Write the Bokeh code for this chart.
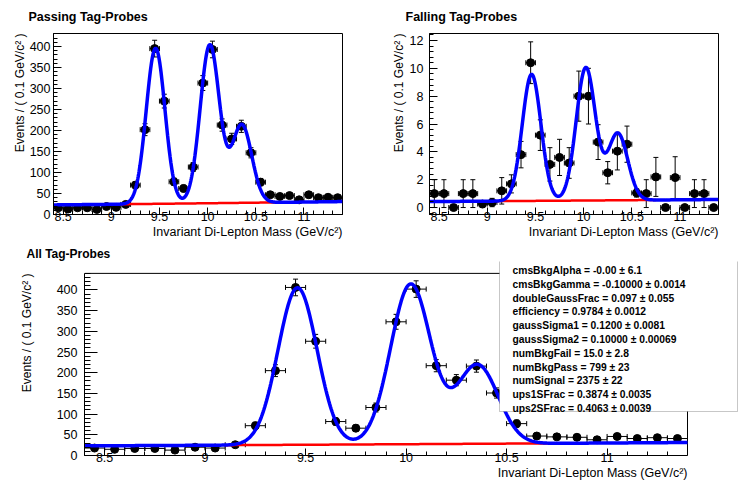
import numpy as np
from bokeh.plotting import figure
from bokeh.layouts import column, row
from bokeh.models import FixedTicker, NumeralTickFormatter, Label, BoxAnnotation, Range1d, Title
from bokeh.embed import file_html
from bokeh.resources import INLINE

# ---------------- data ----------------
mass_bins = [8.45, 8.55, 8.65, 8.75, 8.85, 8.95, 9.05, 9.15, 9.25, 9.35,
             9.45, 9.55, 9.65, 9.75, 9.85, 9.95, 10.05, 10.15, 10.25, 10.35,
             10.45, 10.55, 10.65, 10.75, 10.85, 10.95, 11.05, 11.15, 11.25, 11.35]
bin_half_width = 0.05

pass_counts = [16, 13, 16, 16, 12, 19, 17, 24, 70, 202,
               395, 270, 78, 62, 113, 313, 393, 213, 180, 210,
               147, 77, 47, 43, 45, 35, 47, 40, 41, 40]
pass_errors = [4.0, 3.6, 4.0, 4.0, 3.5, 4.4, 4.1, 4.9, 8.4, 14.2,
               19.9, 16.4, 8.8, 7.9, 10.6, 17.7, 19.8, 14.6, 13.4, 14.5,
               12.1, 8.8, 6.9, 6.6, 6.7, 5.9, 6.9, 6.3, 6.4, 6.3]

fail_counts = [1, 1, 0, 1, 1, 0.25, 0.36, 1.2, 1.7, 3.8,
               10.4, 5.2, 3.1, 3.6, 3.2, 8.0, 8.0, 4.7, 2.5, 4.05,
               4.55, 1.05, 1.0, 2.2, 0, 2.15, 0, 1, 1, 0]
fail_errors = [1.0, 1.0, 0.0, 1.0, 1.0, 0.25, 0.3, 0.95, 0.65, 0.95,
               1.5, 1.1, 1.2, 1.3, 1.1, 1.8, 2.0, 1.25, 0.8, 1.35,
               1.3, 0.3, 1.0, 1.4, 0.0, 1.5, 0.0, 1.0, 1.0, 0.0]

all_counts = [18, 15, 17, 17, 13, 20, 18, 26, 72, 205,
              406, 276, 82, 66, 116, 323, 402, 217, 182, 216,
              151, 77, 47, 45, 44, 38, 46, 41, 43, 41]
all_errors = [4.2, 3.9, 4.1, 4.1, 3.6, 4.5, 4.2, 5.1, 8.5, 14.3,
              20.1, 16.6, 9.1, 8.1, 10.8, 18.0, 20.0, 14.7, 13.5, 14.7,
              12.3, 8.8, 6.9, 6.7, 6.6, 6.2, 6.8, 6.4, 6.6, 6.4]

# fit model (Upsilon 1S, 2S, 3S + CMS-shape background)
peak_mass = [9.46, 10.023, 10.355]
peak_sigma = [0.097, 0.100, 0.103]
pass_yield = [900.2, 944.1, 479.4]
fail_yield = [22.1, 23.9, 12.4]
num_bkg_pass = 799.0
num_bkg_fail = 15.0
bkg_gamma = -0.10
bkg_window = [9.1, 10.75]

x_ticks = [8.5, 9.0, 9.5, 10.0, 10.5, 11.0]
y_ticks_counts = [0, 50, 100, 150, 200, 250, 300, 350, 400]
y_ticks_fail = [0, 2, 4, 6, 8, 10, 12]

stats_lines = [
    "cmsBkgAlpha = -0.00 \u00b1 6.1",
    "cmsBkgGamma = -0.10000 \u00b1 0.0014",
    "doubleGaussFrac =  0.097 \u00b1 0.055",
    "efficiency =  0.9784 \u00b1 0.0012",
    "gaussSigma1 =  0.1200 \u00b1 0.0081",
    "gaussSigma2 =  0.10000 \u00b1 0.00069",
    "numBkgFail =  15.0 \u00b1 2.8",
    "numBkgPass =  799 \u00b1 23",
    "numSignal =  2375 \u00b1 22",
    "ups1SFrac =  0.3874 \u00b1 0.0035",
    "ups2SFrac =  0.4063 \u00b1 0.0039",
]

X_MIN, X_MAX, BIN = 8.4, 11.4, 0.1
FONT = "Liberation Sans"
XT = "Invariant Di-Lepton Mass (GeV/c\u00b2)"
YT = "Events / ( 0.1 GeV/c\u00b2 )"


def bkg_curve(x, nbkg):
    norm = (np.exp(-bkg_gamma * (X_MAX - X_MIN)) - 1.0) / (-bkg_gamma)
    return nbkg * BIN * np.exp(-bkg_gamma * (x - X_MIN)) / norm


def sig_curve(x, yields):
    s = np.zeros_like(x)
    for m, sg, n in zip(peak_mass, peak_sigma, yields):
        s += n * BIN / (np.sqrt(2 * np.pi) * sg) * np.exp(-0.5 * ((x - m) / sg) ** 2)
    return s


def add_title(p, side, text, size, bold=False, align="left", offset=0, standoff=0, valign="middle"):
    t = Title(text=text, align=align, offset=offset, standoff=standoff, vertical_align=valign,
              text_font=FONT, text_font_size=size,
              text_font_style="bold" if bold else "normal", text_color="black")
    p.add_layout(t, side)
    return t


def make_fig(width, height, borders, x_rng, y_rng):
    l, r, t, b = borders
    p = figure(width=width, height=height, x_range=Range1d(*x_rng), y_range=Range1d(*y_rng),
               output_backend="svg", toolbar_location=None,
               min_border_left=l, min_border_right=r, min_border_top=t, min_border_bottom=b)
    p.grid.visible = False
    p.outline_line_color = "black"
    p.outline_line_width = 1
    p.background_fill_color = "white"
    p.border_fill_color = "white"
    return p


def style_axes(p, y_ticks, y_minor, ylen, y_standoff):
    xa = p.xaxis[0]
    xa.ticker = FixedTicker(ticks=x_ticks,
                            minor_ticks=[round(v, 2) for v in np.arange(X_MIN, X_MAX + 0.001, 0.1)])
    xa.formatter = NumeralTickFormatter(format="0.[0]")
    xa.major_tick_in, xa.major_tick_out = 7, 0
    xa.minor_tick_in, xa.minor_tick_out = 4, 0
    xa.major_label_standoff = -3
    ya = p.yaxis[0]
    ya.ticker = FixedTicker(ticks=y_ticks, minor_ticks=y_minor)
    ya.formatter = NumeralTickFormatter(format="0.[0]")
    ya.major_tick_in, ya.major_tick_out = ylen, 0
    ya.minor_tick_in, ya.minor_tick_out = ylen // 2, 0
    ya.major_label_standoff = y_standoff
    for ax in (xa, ya):
        ax.axis_line_color = "black"
        ax.major_tick_line_color = "black"
        ax.minor_tick_line_color = "black"
        ax.major_label_text_font = FONT
        ax.major_label_text_font_size = "12.5px"
        ax.major_label_text_color = "black"


def draw_data(p, counts, errors):
    xs = np.array(mass_bins)
    ys = np.array(counts, dtype=float)
    es = np.array(errors, dtype=float)
    p.segment(x0=xs - bin_half_width, y0=ys, x1=xs + bin_half_width, y1=ys,
              line_color="black", line_width=1)
    p.segment(x0=xs, y0=ys - es, x1=xs, y1=ys + es, line_color="black", line_width=1)
    p.scatter(np.concatenate([xs - bin_half_width, xs + bin_half_width]),
              np.concatenate([ys, ys]), marker="dash", angle=np.pi / 2, size=5,
              line_color="black", line_width=1)
    has_err = es > 0
    p.scatter(np.concatenate([xs[has_err], xs[has_err]]),
              np.concatenate([(ys - es)[has_err], (ys + es)[has_err]]),
              marker="dash", size=5, line_color="black", line_width=1)
    p.scatter(xs, ys, marker="circle", size=8, fill_color="black", line_color="black")


def draw_model(p, sig_parts, bkg_parts):
    xr = np.linspace(bkg_window[0], bkg_window[1], 200)
    bk = sum(bkg_curve(xr, nb) for nb in bkg_parts)
    p.line(xr, bk, line_color="#ff0000", line_width=2.5)
    xc = np.linspace(X_MIN, X_MAX, 700)
    tot = sum(bkg_curve(xc, nb) for nb in bkg_parts) + sum(sig_curve(xc, y) for y in sig_parts)
    p.line(xc, tot, line_color="#0000ff", line_width=3.5)


minor_counts_430 = list(range(0, 431, 10))
minor_counts_440 = list(range(0, 441, 10))
minor_fail = [round(v, 1) for v in np.arange(-0.4, 12.5, 0.4)]

# ---------------- top-left: passing ----------------
p1 = make_fig(370, 245, (53, 28, 33, 31), (X_MIN, X_MAX), (0, 431))
style_axes(p1, y_ticks_counts, minor_counts_430, 8, 3)
draw_data(p1, pass_counts, pass_errors)
draw_model(p1, [pass_yield], [num_bkg_pass])
add_title(p1, "above", " ", "1px", standoff=6)
add_title(p1, "above", "Passing Tag-Probes", "12.5px", bold=True, align="left", offset=-25)
add_title(p1, "left", YT, "12px", align="right", valign="bottom")
add_title(p1, "below", XT, "12.5px", align="right")

# ---------------- top-right: failing ----------------
p2 = make_fig(369, 245, (59, 21, 33, 31), (X_MIN, X_MAX), (-0.5, 12.5))
style_axes(p2, y_ticks_fail, minor_fail, 8, 6)
draw_data(p2, fail_counts, fail_errors)
draw_model(p2, [fail_yield], [num_bkg_fail])
add_title(p2, "above", " ", "1px", standoff=6)
add_title(p2, "above", "Falling Tag-Probes", "12.5px", bold=True, align="left", offset=-24)
add_title(p2, "left", YT, "12px", align="right")
add_title(p2, "below", XT, "12.5px", align="right")

# ---------------- bottom: all ----------------
P3_W, P3_H = 739, 236
P3_L, P3_R, P3_T, P3_B = 84, 0, 14, 26
Y3_MAX = 440.0
VIS_TOP = 12      # px between frame top and the drawn plot-frame top
VIS_W = 603       # px width of the drawn plot frame
fh3 = P3_H - P3_T - P3_B
fw3 = P3_W - P3_L - P3_R
y3_ext = Y3_MAX * fh3 / (fh3 - VIS_TOP)
x3_ext = X_MIN + (X_MAX - X_MIN) * fw3 / VIS_W

p3 = make_fig(P3_W, P3_H, (P3_L, P3_R, P3_T, P3_B), (X_MIN, x3_ext), (0, y3_ext))
p3.outline_line_color = None
style_axes(p3, y_ticks_counts, minor_counts_440, 13, 7)
p3.xaxis[0].bounds = (X_MIN, X_MAX)
p3.yaxis[0].bounds = (0, Y3_MAX)
p3.line([X_MIN, X_MAX, X_MAX], [Y3_MAX, Y3_MAX, 0], line_color="black", line_width=1)
draw_data(p3, all_counts, all_errors)
draw_model(p3, [pass_yield, fail_yield], [num_bkg_pass, num_bkg_fail])
add_title(p3, "above", "All Tag-Probes", "12px", bold=True, align="left", offset=-58)
add_title(p3, "left", " ", "1px", standoff=16)
add_title(p3, "left", YT, "12px", align="right", offset=VIS_TOP)
add_title(p3, "below", XT, "12.5px", align="right", offset=fw3 - VIS_W)

# statistics box
p3.add_layout(BoxAnnotation(left=415, right=653, top=fh3 - 1, bottom=fh3 - 152,
                            left_units="screen", right_units="screen",
                            top_units="screen", bottom_units="screen",
                            fill_color="white", fill_alpha=1.0,
                            line_color="#444444", line_width=1, level="overlay"))
for i, line in enumerate(stats_lines):
    p3.add_layout(Label(x=428, y=fh3 - 11 - 13.8 * i, x_units="screen", y_units="screen",
                        text=line, text_font=FONT, text_font_size="10.3px",
                        text_font_style="bold", text_align="left", text_baseline="middle",
                        text_color="black", level="overlay"))

layout = column(row(p1, p2), p3)
open("out.html", "w").write(file_html(layout, INLINE))
